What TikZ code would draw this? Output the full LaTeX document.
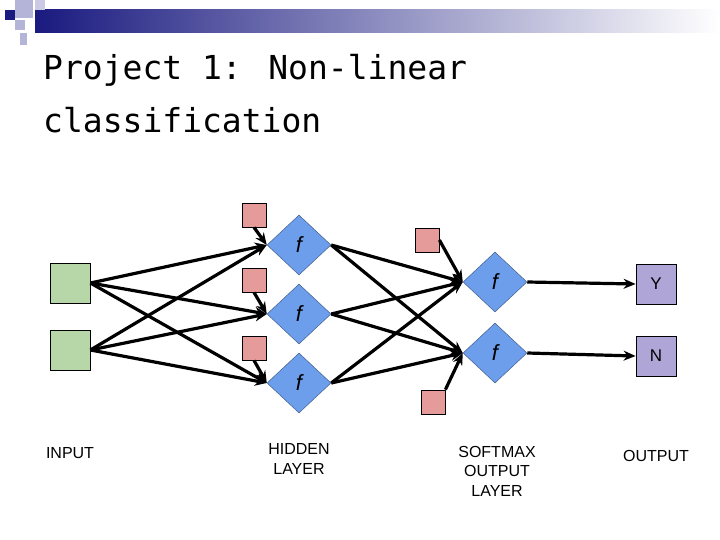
\documentclass[tikz,border=0pt]{standalone}
\usepackage{fontspec}
\setmainfont{Liberation Sans}
\newfontfamily\titlefont{DejaVu Sans Mono}
\usetikzlibrary{shapes.geometric,arrows.meta}
\definecolor{ingreen}{HTML}{B7D7A8}
\definecolor{biaspink}{HTML}{E69B9B}
\definecolor{fblue}{HTML}{6D9EEB}
\definecolor{outpurple}{HTML}{AFA5D6}
\definecolor{navy}{HTML}{1A1A80}
\definecolor{lav}{HTML}{B4B4D8}
\begin{document}
\begin{tikzpicture}[x=1pt,y=-1pt,
  box/.style={draw=black,line width=0.8pt,minimum size=#1,inner sep=0pt},
  inp/.style={box=40pt,fill=ingreen},
  bias/.style={box=24pt,fill=biaspink},
  outp/.style={box=40pt,fill=outpurple,font=\fontsize{17}{18}\selectfont},
  fn/.style={diamond,draw=fblue!60!black,line width=0.5pt,fill=fblue,minimum width=64pt,minimum height=60pt,inner sep=0pt,aspect=1.07,font=\fontsize{22}{24}\selectfont\itshape},
  arr/.style={-{Stealth[length=12pt,width=10pt]},line width=3.2pt},
  lab/.style={align=center,font=\fontsize{16}{19.5}\selectfont}]
\useasboundingbox (0,0) rectangle (720,540);
% header
\shade[left color=navy,right color=white] (35,10) rectangle (720,33);
\fill[lav] (15,0) rectangle (33,18);
\fill[navy] (5,10) rectangle (15,20);
\fill[lav] (15,20) rectangle (25,30);
\fill[lav!70] (35,0) rectangle (45,10);
\fill[lav] (20,33) rectangle (27,45);
\node[anchor=base west,font=\titlefont\fontsize{33}{40}\selectfont,align=left,inner sep=0pt] (title) at (43,80) {Project 1: Non-linear};
\node[anchor=base west,font=\titlefont\fontsize{33}{40}\selectfont,inner sep=0pt] (title2) at (43,133) {classification};
% nodes
\node[inp] (i1) at (70,283) {};
\node[inp] (i2) at (70,350) {};
\node[fn] (h1) at (299,245) {f};
\node[fn] (h2) at (299,314) {f};
\node[fn] (h3) at (299,383) {f};
\node[bias] (b1) at (254,215) {};
\node[bias] (b2) at (254,280) {};
\node[bias] (b3) at (254,348) {};
\node[fn] (s1) at (495,282) {f};
\node[fn] (s2) at (495,353) {f};
\node[bias] (sb1) at (427,240) {};
\node[bias] (sb2) at (433,402) {};
\node[outp] (y) at (656,284) {Y};
\node[outp] (n) at (656,356) {N};
% connectors
\foreach \i in {i1,i2}{\foreach \h in {h1,h2,h3}{\draw[arr] (\i.east) -- (\h.west);}}
\foreach \b/\h in {b1/h1,b2/h2,b3/h3}{\draw[arr] (\b.south) -- (\h.west);}
\foreach \h in {h1,h2,h3}{\foreach \s in {s1,s2}{\draw[arr] (\h.east) -- (\s.west);}}
\draw[arr] (sb1.east) -- (s1.west);
\draw[arr] (sb2.north east) -- (s2.west);
\draw[arr] (s1.east) -- (y.west);
\draw[arr] (s2.east) -- (n.west);
% labels
\node[lab] (l1) at (70,453) {INPUT};
\node[lab] (l2) at (299,459) {HIDDEN\\LAYER};
\node[lab] (l3) at (497,471) {SOFTMAX\\OUTPUT\\LAYER};
\node[lab] (l4) at (656,456) {OUTPUT};
\end{tikzpicture}
\end{document}
